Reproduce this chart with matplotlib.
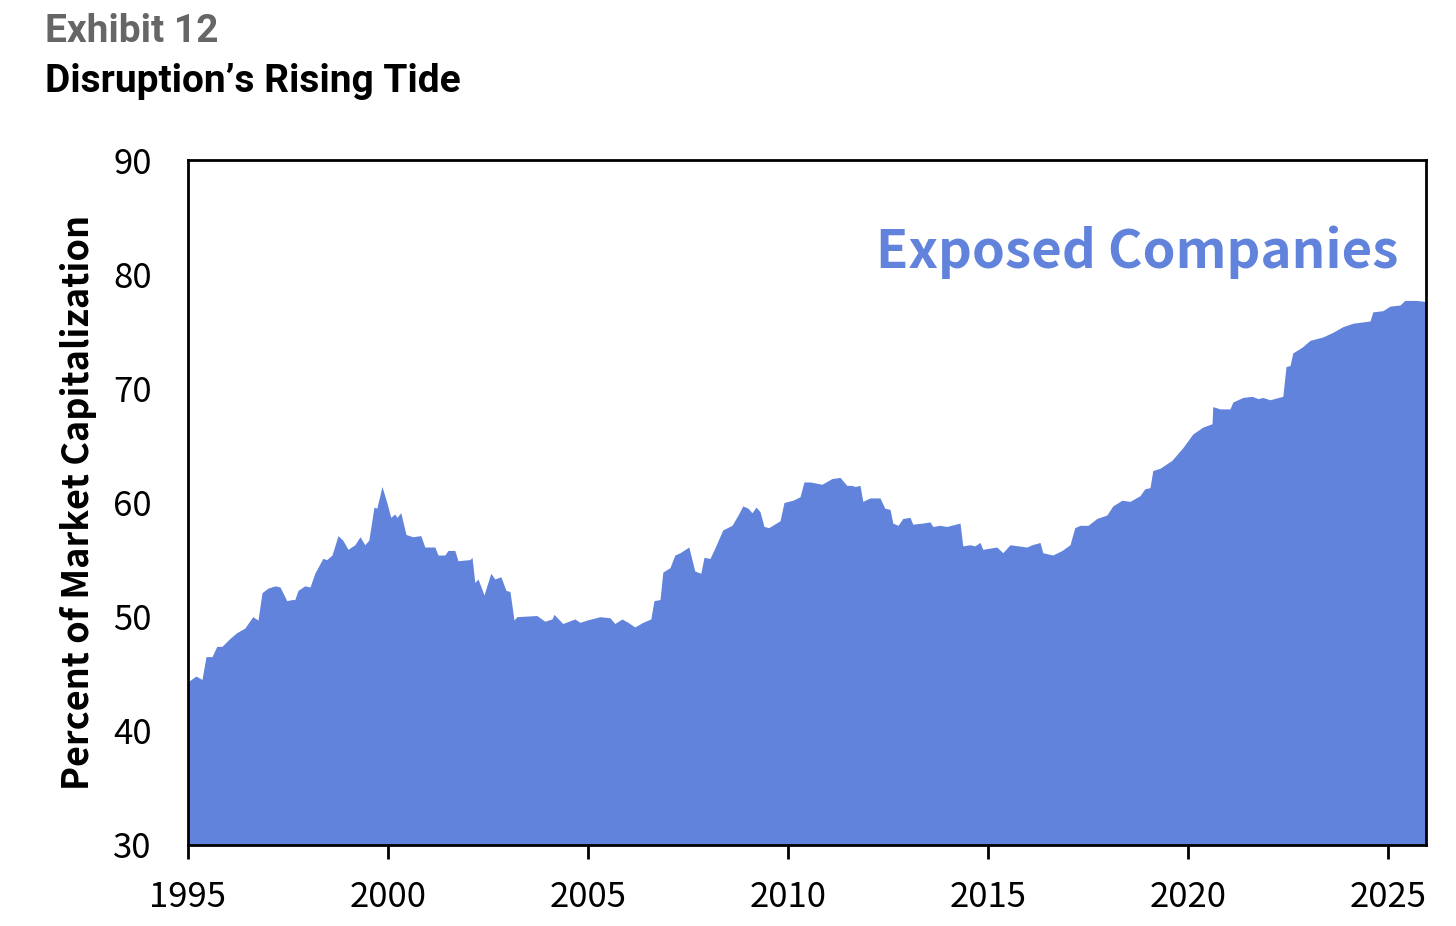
import numpy as np
import matplotlib
matplotlib.use('Agg')
import matplotlib.pyplot as plt

# share of market cap (year fraction, percent)
years = [1995.0, 1995.2, 1995.35, 1995.45, 1995.6, 1995.72, 1995.85, 1996.05, 1996.22, 1996.42,
         1996.62, 1996.75, 1996.85, 1997.0, 1997.18, 1997.3, 1997.47, 1997.6, 1997.67, 1997.75,
         1997.92, 1998.05, 1998.17, 1998.37, 1998.47, 1998.6, 1998.75, 1998.87, 1999.0, 1999.17,
         1999.3, 1999.42, 1999.52, 1999.65, 1999.72, 1999.85, 1999.97, 2000.07, 2000.17, 2000.22,
         2000.32, 2000.45, 2000.62, 2000.82, 2000.92, 2001.17, 2001.25, 2001.42, 2001.5, 2001.67,
         2001.75, 2002.05, 2002.1, 2002.17, 2002.25, 2002.4, 2002.57, 2002.67, 2002.82, 2002.95,
         2003.05, 2003.15, 2003.22, 2003.72, 2003.92, 2004.1, 2004.15, 2004.37, 2004.67, 2004.8,
         2004.97, 2005.3, 2005.55, 2005.67, 2005.85, 2006.0, 2006.17, 2006.37, 2006.57, 2006.65,
         2006.8, 2006.87, 2007.05, 2007.17, 2007.3, 2007.52, 2007.67, 2007.82, 2007.9, 2008.05,
         2008.17, 2008.37, 2008.6, 2008.75, 2008.87, 2009.0, 2009.1, 2009.2, 2009.3, 2009.4,
         2009.52, 2009.8, 2009.9, 2010.12, 2010.3, 2010.4, 2010.55, 2010.85, 2011.1, 2011.3,
         2011.47, 2011.6, 2011.67, 2011.8, 2011.87, 2012.05, 2012.3, 2012.42, 2012.55, 2012.62,
         2012.75, 2012.87, 2013.05, 2013.12, 2013.37, 2013.55, 2013.62, 2013.8, 2013.97, 2014.3,
         2014.37, 2014.55, 2014.67, 2014.8, 2014.87, 2015.22, 2015.37, 2015.55, 2015.97, 2016.1,
         2016.3, 2016.37, 2016.62, 2016.85, 2017.05, 2017.17, 2017.3, 2017.5, 2017.72, 2017.97,
         2018.12, 2018.35, 2018.55, 2018.8, 2018.92, 2019.05, 2019.12, 2019.3, 2019.6, 2019.87,
         2020.12, 2020.37, 2020.6, 2020.62, 2020.8, 2021.05, 2021.12, 2021.37, 2021.6, 2021.75,
         2021.87, 2022.05, 2022.37, 2022.45, 2022.55, 2022.62, 2022.85, 2023.05, 2023.37, 2023.62,
         2023.87, 2024.12, 2024.55, 2024.62, 2024.87, 2025.05, 2025.3, 2025.42, 2025.72, 2025.95]
share = [44.3, 44.8, 44.5, 46.5, 46.5, 47.4, 47.4, 48.1, 48.6, 49.0,
         50.0, 49.7, 52.1, 52.5, 52.7, 52.6, 51.4, 51.5, 51.5, 52.3,
         52.7, 52.6, 53.8, 55.1, 55.0, 55.4, 57.1, 56.7, 55.9, 56.3,
         57.0, 56.3, 56.7, 59.6, 59.5, 61.4, 60.0, 58.7, 59.0, 58.7,
         59.1, 57.2, 57.0, 57.1, 56.1, 56.1, 55.4, 55.4, 55.8, 55.8,
         54.9, 55.0, 55.2, 53.0, 53.3, 51.9, 53.8, 53.3, 53.5, 52.3,
         52.2, 49.7, 50.0, 50.1, 49.6, 49.8, 50.2, 49.4, 49.8, 49.5,
         49.7, 50.0, 49.9, 49.4, 49.8, 49.5, 49.1, 49.5, 49.8, 51.4,
         51.5, 53.9, 54.3, 55.4, 55.6, 56.1, 54.0, 53.8, 55.2, 55.1,
         56.0, 57.6, 58.0, 58.9, 59.7, 59.5, 59.1, 59.6, 59.2, 57.9,
         57.8, 58.4, 60.0, 60.2, 60.5, 61.8, 61.8, 61.6, 62.1, 62.2,
         61.5, 61.5, 61.4, 61.5, 60.1, 60.4, 60.4, 59.5, 59.4, 58.2,
         58.0, 58.6, 58.7, 58.1, 58.2, 58.3, 57.9, 58.0, 57.9, 58.2,
         56.2, 56.3, 56.2, 56.5, 55.9, 56.1, 55.6, 56.3, 56.1, 56.3,
         56.5, 55.6, 55.4, 55.8, 56.3, 57.8, 58.0, 58.0, 58.6, 58.9,
         59.7, 60.2, 60.1, 60.6, 61.2, 61.3, 62.8, 63.0, 63.7, 64.8,
         66.0, 66.6, 66.9, 68.4, 68.2, 68.2, 68.8, 69.2, 69.3, 69.1,
         69.2, 69.0, 69.3, 71.9, 72.0, 73.1, 73.6, 74.2, 74.5, 74.9,
         75.4, 75.7, 75.9, 76.7, 76.8, 77.2, 77.3, 77.7, 77.7, 77.6]
xticks = [1995, 2000, 2005, 2010, 2015, 2020, 2025]
yticks = [30, 40, 50, 60, 70, 80, 90]

blue = '#6183db'
sans = 'Noto Sans CJK SC'
fig = plt.figure(figsize=(14.56, 9.26), dpi=100)
ax = fig.add_axes([188/1456, 1-845/926, 1238/1456, 685/926])
ax.fill_between(years, 30, share, color=blue, linewidth=0)
ax.set_xlim(1995, 2025.95)
ax.set_ylim(30, 90)
ax.set_xticks(xticks)
ax.set_yticks(yticks)
ax.tick_params(axis='x', direction='out', length=10, width=2, pad=15, labelsize=25)
ax.tick_params(axis='y', length=0, pad=26, labelsize=25)
for lab in ax.get_xticklabels() + ax.get_yticklabels():
    lab.set_family(sans)
for s in ax.spines.values():
    s.set_linewidth(2)
    s.set_color('black')
ax.set_ylabel('Percent of Market Capitalization', fontsize=26, fontweight='bold',
              family=sans, labelpad=12)
ax.text(0.978, 0.865, 'Exposed Companies', transform=ax.transAxes, ha='right', va='center',
        fontsize=38, fontweight='bold', color=blue, family=sans)

fig.text(45/1456, 1-31/926, 'Exhibit 12', fontsize=28, fontweight='bold', color='#666666',
         family='Roboto', va='center')
fig.text(45/1456, 1-81/926, 'Disruption\u2019s Rising Tide', fontsize=28, fontweight='bold',
         color='black', family='Roboto', va='center')

plt.savefig('out.png', dpi=100)
